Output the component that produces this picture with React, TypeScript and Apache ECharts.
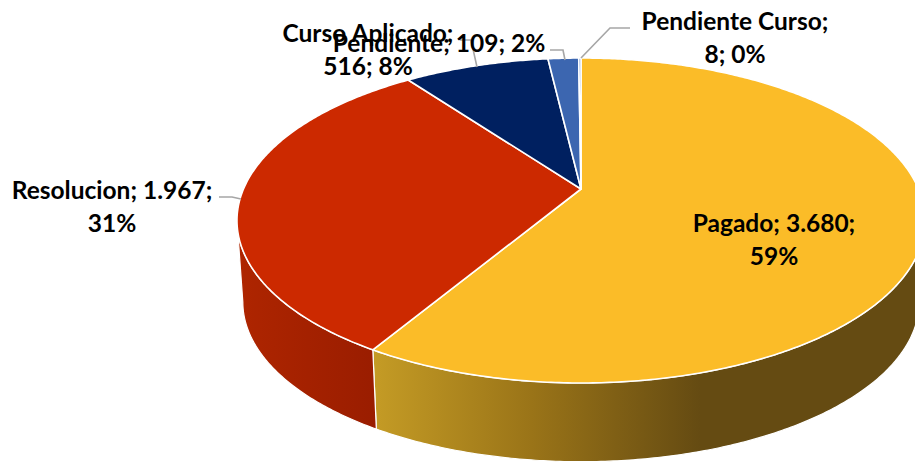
import React, { useEffect, useRef } from "react";
import * as echarts from "echarts";

const categories = ["Pagado", "Resolucion", "Curso Aplicado", "Pendiente", "Pendiente Curso"];
const values = [3680, 1967, 516, 109, 8];
const percentLabels = ["59%", "31%", "8%", "2%", "0%"];
const topColors = ["#FBBC28", "#CC2900", "#002060", "#3C66B0", "#6F8FCB"];
const wallStops = [
  [[0, "#C49B25"], [0.48, "#9A7418"], [1, "#654B12"]],
  [[0, "#AE2500"], [1, "#9A1D00"]],
  [[0, "#001A4D"], [1, "#001A4D"]],
  [[0, "#30528D"], [1, "#30528D"]],
  [[0, "#597FA0"], [1, "#597FA0"]],
];
const wallRanges = [[375, 700], [240, 375], [400, 550], [550, 580], [578, 582]];

// Text line break (fields on the first line) and where each label goes
const firstLineFields = [2, 2, 1, 3, 1];
const labelAnchors = [[774, 239], [112, 206], [368, 49], [439, 42], [735, 37]];
const leaders = [
  null,
  [[219, 197], [232, 197], [241, 199]],
  [[460, 40], [471, 40], [477, 67]],
  [[550, 50], [563, 50], [565, 60]],
  [[630, 28], [610, 28], [581, 58]],
];

// Projective model of the tilted disc
const CX = 581, CY = 189, RX = 337.5, RY_B = -119.76, PERSP = 0.1938;
const BOTTOM_SCALE = 0.983, BOTTOM_CY = 271;

const total = values.reduce((a, b) => a + b, 0);

// Angles where the rim turns around: only the rim between them faces the viewer
const FRONT_START = Math.acos(-PERSP);
const FRONT_END = Math.PI * 2 - FRONT_START;

function project(angle: number, bottom: boolean): number[] {
  const u = Math.sin(angle), v = Math.cos(angle);
  const d = 1 + PERSP * v;
  const x = (RX * u) / d;
  const y = (CY + RY_B * v) / d - CY;
  return bottom
    ? [CX + BOTTOM_SCALE * x, BOTTOM_CY + BOTTOM_SCALE * y]
    : [CX + x, CY + y];
}

function sliceAngles(i: number): number[] {
  const before = values.slice(0, i).reduce((a, b) => a + b, 0);
  return [(before / total) * Math.PI * 2, ((before + values[i]) / total) * Math.PI * 2];
}

function arcPoints(a0: number, a1: number, bottom: boolean): number[][] {
  const n = Math.max(2, Math.ceil((a1 - a0) / 0.01));
  const pts: number[][] = [];
  for (let k = 0; k <= n; k++) pts.push(project(a0 + ((a1 - a0) * k) / n, bottom));
  return pts;
}

function fmt(v: number): string {
  return String(v).replace(/\B(?=(\d{3})+$)/g, ".");
}

function labelText(i: number): string {
  const fields = [categories[i], fmt(values[i]), percentLabels[i]];
  const n = firstLineFields[i];
  const first = fields.slice(0, n).join("; ") + (n < 3 ? ";" : "");
  const rest = fields.slice(n).join("; ");
  return rest ? first + "\n" + rest : first;
}

const seriesData = values.map((v, i) => [i, v]);

export default function App() {
  const ref = useRef<HTMLDivElement>(null);
  useEffect(() => {
    document.body.style.margin = "0";
    document.body.style.background = "#fff";
    const chart = echarts.init(ref.current!, undefined, { renderer: "svg" });
    chart.setOption({
      animation: false,
      backgroundColor: "#ffffff",
      series: [
        {
          type: "custom",
          coordinateSystem: "none",
          silent: true,
          z: 1,
          data: seriesData,
          renderItem: (_p: any, api: any) => {
            const i = api.value(0);
            const [s0, s1] = sliceAngles(i);
            const a0 = Math.max(s0, FRONT_START);
            const a1 = Math.min(s1, FRONT_END);
            if (a1 <= a0) return { type: "group", children: [] };
            const pts = arcPoints(a0, a1, false).concat(arcPoints(a0, a1, true).reverse());
            const [x0, x1] = wallRanges[i];
            return {
              type: "polygon",
              shape: { points: pts },
              style: {
                fill: {
                  type: "linear",
                  global: true,
                  x: x0, y: 0, x2: x1, y2: 0,
                  colorStops: wallStops[i].map((s: any) => ({ offset: s[0], color: s[1] })),
                },
                stroke: "#ffffff",
                lineWidth: 1.2,
              },
            };
          },
        },
        {
          type: "custom",
          coordinateSystem: "none",
          silent: true,
          z: 2,
          data: seriesData,
          renderItem: (_p: any, api: any) => {
            const i = api.value(0);
            const [a0, a1] = sliceAngles(i);
            const pts = [[CX, CY], ...arcPoints(a0, a1, false)];
            return {
              type: "polygon",
              shape: { points: pts },
              style: { fill: topColors[i], stroke: "#ffffff", lineWidth: 1.6, lineJoin: "round" },
            };
          },
        },
        {
          type: "custom",
          coordinateSystem: "none",
          silent: true,
          z: 3,
          data: [seriesData[1], seriesData[0], seriesData[4], seriesData[2], seriesData[3]],
          renderItem: (_p: any, api: any) => {
            const i = api.value(0);
            const children: any[] = [];
            if (leaders[i]) {
              children.push({
                type: "polyline",
                shape: { points: leaders[i] },
                style: { stroke: "#A6A6A6", lineWidth: 1.6, fill: "none" },
              });
            }
            children.push({
              type: "text",
              style: {
                text: labelText(i),
                x: labelAnchors[i][0],
                y: labelAnchors[i][1],
                fill: "#000000",
                font: 'bold 24.5px Lato, "Open Sans", sans-serif',
                lineHeight: 33,
                align: "center",
                verticalAlign: "middle",
              },
            });
            return { type: "group", children };
          },
        },
      ],
    });
    return () => chart.dispose();
  }, []);
  return <div ref={ref} style={{ position: "fixed", left: 0, top: 0, width: 915, height: 462 }} />;
}
